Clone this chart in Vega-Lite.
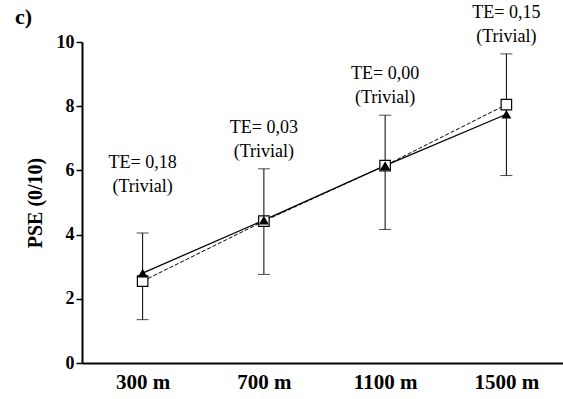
{
  "$schema": "https://vega.github.io/schema/vega-lite/v6.json",
  "width": 485,
  "height": 321,
  "autosize": {"type": "none"},
  "padding": {"left": 82, "top": 42, "right": 0, "bottom": 36},
  "background": "white",
  "title": {
    "text": "c)",
    "anchor": "start",
    "frame": "group",
    "dx": -67,
    "dy": 27,
    "offset": 2,
    "font": "Liberation Serif",
    "fontSize": 22,
    "fontWeight": "bold",
    "color": "black"
  },
  "config": {
    "view": {"stroke": null},
    "font": "Liberation Serif"
  },
  "data": {
    "values": [
      {"dist": "300 m", "tri": 2.8, "sq": 2.55, "lo": 1.35, "hi": 4.05, "label": ["TE= 0,18", "(Trivial)"]},
      {"dist": "700 m", "tri": 4.45, "sq": 4.42, "lo": 2.76, "hi": 6.05, "label": ["TE= 0,03", "(Trivial)"]},
      {"dist": "1100 m", "tri": 6.15, "sq": 6.15, "lo": 4.16, "hi": 7.72, "label": ["TE= 0,00", "(Trivial)"]},
      {"dist": "1500 m", "tri": 7.75, "sq": 8.05, "lo": 5.84, "hi": 9.63, "label": ["TE= 0,15", "(Trivial)"]}
    ]
  },
  "encoding": {
    "x": {
      "field": "dist",
      "type": "ordinal",
      "sort": null,
      "scale": {"type": "point", "padding": 0.5},
      "axis": {
        "title": null,
        "labelAngle": 0,
        "ticks": false,
        "domainColor": "black",
        "domainWidth": 2,
        "labelFont": "Liberation Serif",
        "labelFontSize": 21,
        "labelFontWeight": "bold",
        "labelColor": "black",
        "labelPadding": 8
      }
    }
  },
  "layer": [
    {
      "mark": {"type": "rule", "color": "black", "strokeWidth": 1},
      "encoding": {
        "y": {
          "field": "lo",
          "type": "quantitative",
          "scale": {"domain": [0, 10]},
          "axis": {
            "title": "PSE (0/10)",
            "titleFont": "Liberation Serif",
            "titleFontSize": 20,
            "titleFontWeight": "bold",
            "titleColor": "black",
            "titlePadding": 11,
            "values": [0, 2, 4, 6, 8, 10],
            "grid": false,
            "domainColor": "black",
            "domainWidth": 2,
            "tickColor": "black",
            "tickWidth": 1.5,
            "tickSize": 6,
            "labelFont": "Liberation Serif",
            "labelFontSize": 18,
            "labelFontWeight": "bold",
            "labelColor": "black",
            "labelPadding": 2
          }
        },
        "y2": {"field": "hi"}
      }
    },
    {
      "mark": {"type": "tick", "orient": "horizontal", "color": "black", "size": 12, "thickness": 1},
      "encoding": {"y": {"field": "lo", "type": "quantitative"}}
    },
    {
      "mark": {"type": "tick", "orient": "horizontal", "color": "black", "size": 12, "thickness": 1},
      "encoding": {"y": {"field": "hi", "type": "quantitative"}}
    },
    {
      "mark": {"type": "line", "color": "black", "strokeWidth": 1, "strokeDash": [4, 2]},
      "encoding": {"y": {"field": "sq", "type": "quantitative"}}
    },
    {
      "mark": {"type": "line", "color": "black", "strokeWidth": 1.3},
      "encoding": {"y": {"field": "tri", "type": "quantitative"}}
    },
    {
      "mark": {"type": "point", "shape": "square", "filled": true, "fill": "white", "stroke": "black", "strokeWidth": 1.2, "size": 110, "opacity": 1},
      "encoding": {"y": {"field": "sq", "type": "quantitative"}}
    },
    {
      "mark": {"type": "point", "shape": "triangle-up", "filled": true, "color": "black", "size": 100, "opacity": 1},
      "encoding": {"y": {"field": "tri", "type": "quantitative"}}
    },
    {
      "transform": [{"filter": "datum.dist == '300 m'"}],
      "mark": {"type": "text", "font": "Liberation Serif", "fontSize": 18, "color": "black", "baseline": "middle", "lineHeight": 24, "dy": -70},
      "encoding": {"y": {"field": "hi", "type": "quantitative"}, "text": {"field": "label"}}
    },
    {
      "transform": [{"filter": "datum.dist != '300 m'"}],
      "mark": {"type": "text", "font": "Liberation Serif", "fontSize": 18, "color": "black", "baseline": "middle", "lineHeight": 24, "dy": -41},
      "encoding": {"y": {"field": "hi", "type": "quantitative"}, "text": {"field": "label"}}
    }
  ]
}
